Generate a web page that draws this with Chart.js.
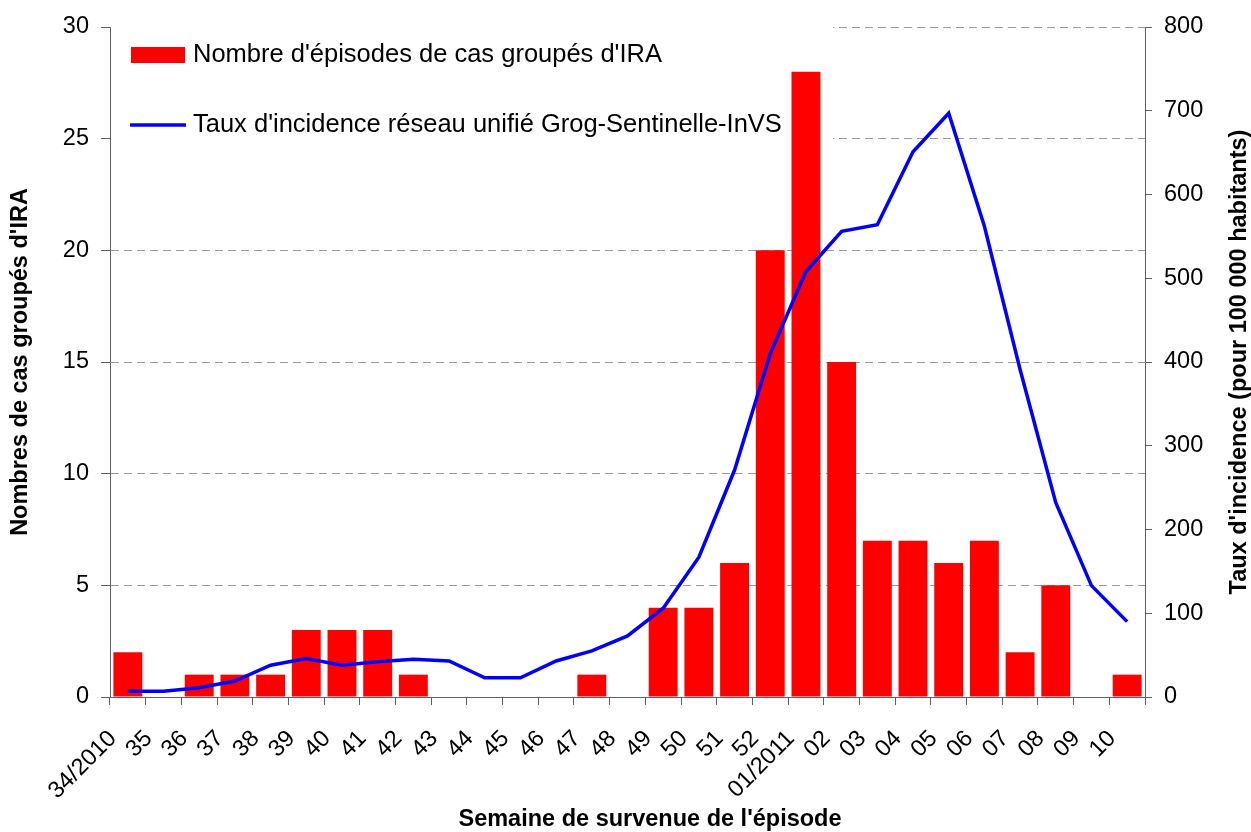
<!DOCTYPE html>
<html>
<head>
<meta charset="utf-8">
<script src="https://cdn.jsdelivr.net/npm/chart.js@4.4.0/dist/chart.umd.min.js"></script>
<style>
  html, body { margin: 0; padding: 0; background: #fff; }
</style>
</head>
<body>
<canvas id="ira-chart" width="1251" height="832"></canvas>
<script>
// semaines de survenue (34/2010 -> 10/2011)
var semaines = ["34/2010", "35", "36", "37", "38", "39", "40", "41", "42", "43", "44", "45",
  "46", "47", "48", "49", "50", "51", "52", "01/2011", "02", "03", "04", "05", "06", "07",
  "08", "09", "10"];

// nombre d'episodes de cas groupes d'IRA (axe gauche)
var nbEpisodes = [2, 0, 1, 1, 1, 3, 3, 3, 1, 0, 0, 0, 0, 1, 0, 4, 4, 6, 20, 28, 15, 7, 7, 6,
  7, 2, 5, 0, 1];

// taux d'incidence pour 100 000 habitants (axe droit)
var tauxIncidence = [7, 7, 11, 19, 38, 46, 38, 42, 45, 43, 23, 23, 43, 55, 73, 106, 167, 271,
  410, 508, 556, 564, 651, 697, 562, 391, 232, 133, 90];

var legendeBarres = "Nombre d'épisodes de cas groupés d'IRA";
var legendeLigne = "Taux d'incidence réseau unifié Grog-Sentinelle-InVS";
var titreX = "Semaine de survenue de l'épisode";
var titreGauche = "Nombres de cas groupés d'IRA";
var titreDroite = "Taux d'incidence (pour 100 000 habitants)";

var police = "'Liberation Sans', Arial, sans-serif";
var axeCouleur = '#5f5f5f';

// legende et titres dessines a la main (comme dans Excel)
var decor = {
  id: 'decor',
  beforeDatasetsDraw: function (chart) {
    var ctx = chart.ctx;
    var a = chart.chartArea;
    ctx.save();
    ctx.fillStyle = '#fff';
    ctx.fillRect(a.left + 1, a.top - 2, 832 - a.left, 140);
    ctx.restore();
  },
  afterDraw: function (chart) {
    var ctx = chart.ctx;
    ctx.save();
    // legende
    ctx.fillStyle = '#ff0000';
    ctx.fillRect(131, 47, 54, 16);
    ctx.strokeStyle = '#0000ff';
    ctx.lineWidth = 3.5;
    ctx.beginPath();
    ctx.moveTo(130, 125);
    ctx.lineTo(186, 125);
    ctx.stroke();
    ctx.fillStyle = '#000';
    ctx.font = "25.5px " + police;
    ctx.textBaseline = 'middle';
    ctx.textAlign = 'left';
    ctx.fillText(legendeBarres, 193, 55);
    ctx.fillText(legendeLigne, 193, 125);

    // titres des axes
    ctx.font = "bold 23.5px " + police;
    ctx.textAlign = 'center';
    ctx.fillText(titreX, 650, 820);
    var mid = (chart.chartArea.top + chart.chartArea.bottom) / 2;
    ctx.save();
    ctx.translate(21, mid);
    ctx.rotate(-Math.PI / 2);
    ctx.fillText(titreGauche, 0, 0);
    ctx.restore();
    ctx.save();
    ctx.translate(1240, mid);
    ctx.rotate(-Math.PI / 2);
    ctx.fillText(titreDroite, 0, 0);
    ctx.restore();
    ctx.restore();
  }
};

var ctx = document.getElementById('ira-chart').getContext('2d');
var config = {
  type: 'bar',
  data: {
    labels: semaines,
    datasets: [{
      type: 'line',
      label: legendeLigne,
      data: tauxIncidence,
      yAxisID: 'y1',
      borderColor: '#0000ff',
      borderWidth: 3.5,
      pointRadius: 0,
      tension: 0,
      fill: false,
      order: 1
    }, {
      type: 'bar',
      label: legendeBarres,
      data: nbEpisodes,
      yAxisID: 'y',
      backgroundColor: '#ff0000',
      barPercentage: 0.81,
      categoryPercentage: 1,
      order: 2
    }]
  },
  options: {
    responsive: false,
    animation: false,
    devicePixelRatio: 1,
    layout: { padding: { top: 27, left: 0, right: 0, bottom: 0 } },
    plugins: {
      legend: { display: false },
      tooltip: { enabled: false }
    },
    scales: {
      x: {
        offset: true,
        grid: { offset: true, drawOnChartArea: false, tickLength: 8, color: axeCouleur },
        border: { color: axeCouleur },
        ticks: {
          maxRotation: 45, minRotation: 45, autoSkip: false, labelOffset: -15,
          color: '#000', font: { family: police, size: 23.5 }, padding: 20
        },
        afterFit: function (s) { s.height = 135; }
      },
      y: {
        position: 'left',
        min: 0, max: 30,
        ticks: { stepSize: 5, color: '#000', font: { family: police, size: 23.5 }, padding: 12 },
        grid: {
          color: function (c) { return c.tick && c.tick.value === 0 ? 'rgba(0,0,0,0)' : '#9a9a9a'; },
          tickColor: axeCouleur, tickLength: 9
        },
        border: { color: axeCouleur, dash: [8, 5] },
        afterFit: function (s) { s.width = 110; }
      },
      y1: {
        position: 'right',
        min: 0, max: 800,
        ticks: { stepSize: 100, color: '#000', font: { family: police, size: 23.5 }, padding: 12 },
        grid: { drawOnChartArea: false, tickColor: axeCouleur, tickLength: 7 },
        border: { color: axeCouleur },
        afterFit: function (s) { s.width = 106; }
      }
    }
  },
  plugins: [decor]
};

var chart = new Chart(ctx, config);
</script>
</body>
</html>
